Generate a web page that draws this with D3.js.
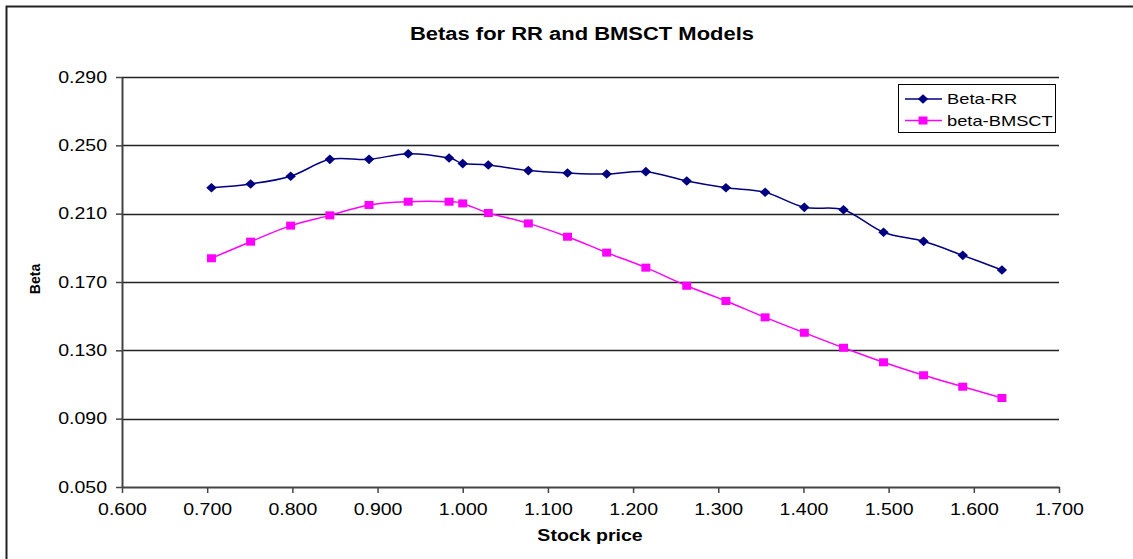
<!DOCTYPE html>
<html>
<head>
<meta charset="utf-8">
<script src="https://cdn.jsdelivr.net/npm/d3@7"></script>
<style>
  body { margin: 0; background: #fff; }
  text { font-family: "Liberation Sans", Arial, sans-serif; fill: #000; }
</style>
</head>
<body>
<svg id="chart"></svg>
<script>
// values
var stockPrice = [0.705, 0.751, 0.798, 0.844, 0.890, 0.936, 0.984, 1.000, 1.030, 1.077, 1.123,
                  1.169, 1.215, 1.263, 1.309, 1.355, 1.401, 1.447, 1.494, 1.541, 1.587, 1.633];
var betaRR = [0.2252, 0.2274, 0.2319, 0.2418, 0.2418, 0.2451, 0.2426, 0.2393, 0.2385, 0.2352, 0.2338,
              0.2332, 0.2346, 0.2291, 0.2252, 0.2225, 0.2137, 0.2123, 0.1991, 0.1938, 0.1856, 0.1770];
var betaBMSCT = [0.1839, 0.1936, 0.2030, 0.2090, 0.2151, 0.2170, 0.2170, 0.2160, 0.2104, 0.2043, 0.1965,
                 0.1872, 0.1784, 0.1678, 0.1589, 0.1493, 0.1403, 0.1315, 0.1230, 0.1154, 0.1087, 0.1021];
var yTicks = [0.050, 0.090, 0.130, 0.170, 0.210, 0.250, 0.290];
var xTicks = [0.6, 0.7, 0.8, 0.9, 1.0, 1.1, 1.2, 1.3, 1.4, 1.5, 1.6, 1.7];
var seriesNames = ["Beta-RR", "beta-BMSCT"];

var W = 1133, H = 559;
var margin = { top: 77, right: 74, bottom: 72, left: 122 },
    width = W - margin.left - margin.right,
    height = H - margin.top - margin.bottom;
var STRETCH = 1.22; // the reference text is drawn a bit wider than it is tall

var svg = d3.select("#chart").attr("width", W).attr("height", H);

function stretch(sel, k) {
  sel.each(function() {
    var w = this.getComputedTextLength();
    this.setAttribute("textLength", w * k);
    this.setAttribute("lengthAdjust", "spacingAndGlyphs");
  });
}

// outer chart frame (runs off the right and bottom edges)
svg.append("path")
  .attr("d", "M6.5," + (H + 5) + "V6.5H" + (W + 5))
  .style("fill", "none")
  .style("stroke", "#222")
  .style("stroke-width", 2);

var canvas = svg.append("g")
  .attr("transform", "translate(" + margin.left + "," + margin.top + ")");

var xScale = d3.scaleLinear().domain([0.6, 1.7]).range([0, width]);
var yScale = d3.scaleLinear().domain([0.05, 0.29]).range([height, 0]);

// gridlines
canvas.selectAll(".grid")
  .data(yTicks.slice(1))
  .enter().append("line")
  .attr("class", "grid")
  .attr("x1", 0).attr("x2", width)
  .attr("y1", function(d) { return Math.round(yScale(d)) + 0.5; })
  .attr("y2", function(d) { return Math.round(yScale(d)) + 0.5; })
  .style("stroke", "#222")
  .style("stroke-width", 1.3);

var xAxis = d3.axisBottom(xScale).tickValues(xTicks).tickFormat(d3.format(".3f"))
  .tickSize(6).tickPadding(11).tickSizeOuter(0);
var yAxis = d3.axisLeft(yScale).tickValues(yTicks).tickFormat(d3.format(".3f"))
  .tickSize(6).tickPadding(9).tickSizeOuter(0);

var gx = canvas.append("g")
  .attr("class", "x axis")
  .attr("transform", "translate(0," + height + ")")
  .call(xAxis);
var gy = canvas.append("g")
  .attr("class", "y axis")
  .call(yAxis);

[gx, gy].forEach(function(g) {
  g.select(".domain").style("stroke", "#444").style("stroke-width", 2);
  g.selectAll(".tick line").style("stroke", "#444").style("stroke-width", 1.5);
  g.selectAll(".tick text")
    .style("font-size", "16px")
    .style("fill", "#000")
    .call(stretch, STRETCH);
});

// series
var series = [
  { name: seriesNames[0], values: betaRR, color: "#000080", shape: "diamond" },
  { name: seriesNames[1], values: betaBMSCT, color: "#FF00FF", shape: "square" }
];

var line = d3.line()
  .x(function(d) { return xScale(d[0]); })
  .y(function(d) { return yScale(d[1]); })
  .curve(d3.curveCatmullRom.alpha(0));

function drawMarker(g, s, x, y) {
  if (s.shape === "square") {
    g.append("rect")
      .attr("x", x - 4.5).attr("y", y - 4)
      .attr("width", 9).attr("height", 8)
      .style("fill", s.color);
  } else {
    g.append("path")
      .attr("d", "M" + x + "," + (y - 4.8) + "L" + (x + 5.2) + "," + y + "L" + x + "," + (y + 4.8) + "L" + (x - 5.2) + "," + y + "Z")
      .style("fill", s.color);
  }
}

series.forEach(function(s) {
  var pts = stockPrice.map(function(x, i) { return [x, s.values[i]]; });
  canvas.append("path")
    .datum(pts)
    .attr("d", line)
    .style("fill", "none")
    .style("stroke", s.color)
    .style("stroke-width", 1.5);
  var mg = canvas.append("g");
  pts.forEach(function(p) { drawMarker(mg, s, xScale(p[0]), yScale(p[1])); });
});

// title
svg.append("text")
  .attr("x", 582)
  .attr("y", 40)
  .style("font-size", "18px")
  .style("font-weight", "bold")
  .style("text-anchor", "middle")
  .text("Betas for RR and BMSCT Models")
  .call(stretch, STRETCH);

// axis titles
svg.append("text")
  .attr("x", 590)
  .attr("y", 541)
  .style("font-size", "16px")
  .style("font-weight", "bold")
  .style("text-anchor", "middle")
  .text("Stock price")
  .call(stretch, STRETCH);

svg.append("text")
  .attr("transform", "translate(40,279) rotate(-90)")
  .style("font-size", "14px")
  .style("font-weight", "bold")
  .style("text-anchor", "middle")
  .text("Beta");

// legend
var legend = svg.append("g").attr("transform", "translate(898,84)");
legend.append("rect")
  .attr("x", 0.5).attr("y", 0.5)
  .attr("width", 157).attr("height", 48)
  .style("fill", "#fff")
  .style("stroke", "#000")
  .style("stroke-width", 1);

series.forEach(function(s, i) {
  var cy = 15 + i * 21.5;
  var row = legend.append("g");
  row.append("line")
    .attr("x1", 7).attr("x2", 44)
    .attr("y1", cy).attr("y2", cy)
    .style("stroke", s.color)
    .style("stroke-width", 1.5);
  drawMarker(row, s, 25, cy);
  row.append("text")
    .attr("x", 49)
    .attr("y", cy)
    .attr("dy", "0.35em")
    .style("font-size", "15px")
    .text(s.name)
    .call(stretch, STRETCH);
});
</script>
</body>
</html>
